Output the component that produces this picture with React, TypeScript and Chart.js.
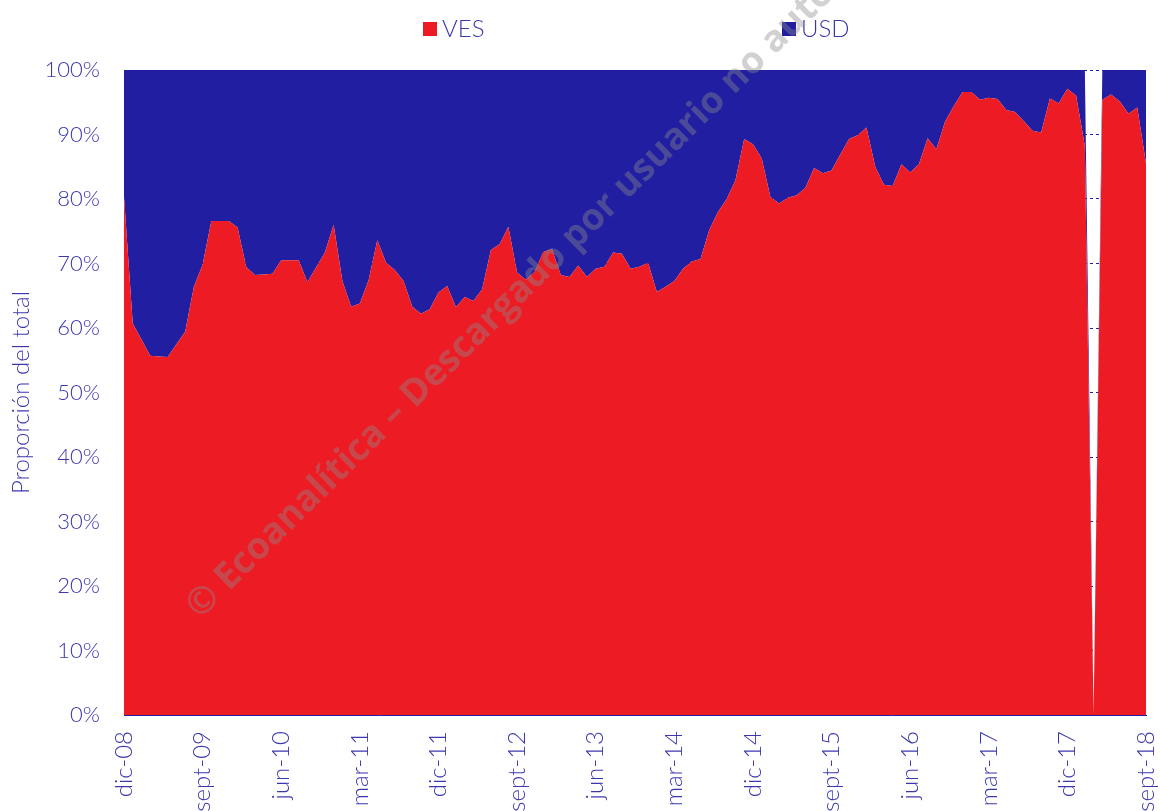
import React, { useEffect, useRef } from 'react';
import { Chart, registerables } from 'chart.js';

Chart.register(...registerables);

const MONTHS = ['ene', 'feb', 'mar', 'abr', 'may', 'jun', 'jul', 'ago', 'sept', 'oct', 'nov', 'dic'];
const START_YEAR = 2008;
const START_MONTH = 11; // dic
const N_POINTS = 118;

const LABELS: string[] = [];
for (let i = 0; i < N_POINTS; i++) {
  const m = (START_MONTH + i) % 12;
  const y = START_YEAR + Math.floor((START_MONTH + i) / 12);
  LABELS.push(`${MONTHS[m]}-${String(y % 100).padStart(2, '0')}`);
}

const VES = [
  80.4, 60.7, 58.2, 55.7, 55.6, 55.5, 57.5, 59.4, 66.4, 69.8, 76.6, 76.6,
  76.6, 75.6, 69.4, 68.2, 68.3, 68.4, 70.5, 70.5, 70.5, 67.1, 69.4, 71.7,
  76.0, 67.3, 63.3, 63.8, 67.4, 73.6, 70.1, 69.0, 67.3, 63.3, 62.2, 62.9,
  65.5, 66.5, 63.2, 64.8, 64.2, 66.0, 72.1, 73.0, 75.7, 68.6, 67.5, 68.7,
  71.8, 72.2, 68.2, 67.9, 69.7, 67.9, 69.2, 69.5, 71.7, 71.5, 69.2, 69.5,
  70.1, 65.6, 66.4, 67.3, 69.2, 70.3, 70.7, 75.2, 78.0, 80.0, 82.9, 89.3,
  88.5, 86.3, 80.3, 79.3, 80.2, 80.6, 81.7, 84.8, 84.0, 84.4, 86.9, 89.3,
  89.9, 91.1, 85.0, 82.2, 82.0, 85.4, 84.1, 85.4, 89.4, 87.7, 92.0, 94.4,
  96.6, 96.6, 95.4, 95.7, 95.5, 93.8, 93.5, 92.1, 90.6, 90.3, 95.6, 94.8,
  97.1, 96.0, 88.2, 0, 95.4, 96.2, 95.1, 93.2, 94.2, 85.5,
];

const USD = [
  19.6, 39.3, 41.8, 44.3, 44.4, 44.5, 42.5, 40.6, 33.6, 30.2, 23.4, 23.4,
  23.4, 24.4, 30.6, 31.8, 31.7, 31.6, 29.5, 29.5, 29.5, 32.9, 30.6, 28.3,
  24.0, 32.7, 36.7, 36.2, 32.6, 26.4, 29.9, 31.0, 32.7, 36.7, 37.8, 37.1,
  34.5, 33.5, 36.8, 35.2, 35.8, 34.0, 27.9, 27.0, 24.3, 31.4, 32.5, 31.3,
  28.2, 27.8, 31.8, 32.1, 30.3, 32.1, 30.8, 30.5, 28.3, 28.5, 30.8, 30.5,
  29.9, 34.4, 33.6, 32.7, 30.8, 29.7, 29.3, 24.8, 22.0, 20.0, 17.1, 10.7,
  11.5, 13.7, 19.7, 20.7, 19.8, 19.4, 18.3, 15.2, 16.0, 15.6, 13.1, 10.7,
  10.1, 8.9, 15.0, 17.8, 18.0, 14.6, 15.9, 14.6, 10.6, 12.3, 8.0, 5.6,
  3.4, 3.4, 4.6, 4.3, 4.5, 6.2, 6.5, 7.9, 9.4, 9.7, 4.4, 5.2,
  2.9, 4.0, 11.8, 0, 4.6, 3.8, 4.9, 6.8, 5.8, 14.5,
];

const SERIES_NAMES = ['VES', 'USD'];
const RED = '#ED1C24';
const BLUE = '#211EA2';
const TEXT = '#3B38AE';
const FONT = "Lato, 'Noto Sans', sans-serif";
const WATERMARK = '© Ecoanalítica – Descargado por usuario no autorizado';

const overlayPlugin = {
  id: 'overlay',
  afterDraw(chart: any) {
    const ctx = chart.ctx as CanvasRenderingContext2D;
    ctx.save();
    // legend
    const items = [
      { name: SERIES_NAMES[0], color: RED, x: 423 },
      { name: SERIES_NAMES[1], color: BLUE, x: 782 },
    ];
    ctx.font = `300 24px ${FONT}`;
    ctx.textBaseline = 'middle';
    ctx.textAlign = 'left';
    items.forEach((it) => {
      ctx.fillStyle = it.color;
      ctx.fillRect(it.x, 22, 14, 14);
      ctx.fillStyle = TEXT;
      ctx.fillText(it.name, it.x + 19, 29);
    });
    // watermark
    ctx.translate(200, 620);
    ctx.rotate((-44.5 * Math.PI) / 180);
    ctx.font = `bold 37px 'Open Sans', sans-serif`;
    ctx.fillStyle = 'rgba(140,140,140,0.4)';
    ctx.textBaseline = 'alphabetic';
    ctx.fillText(WATERMARK, 0, 0);
    ctx.restore();
  },
};

export default function App() {
  const ref = useRef<HTMLCanvasElement | null>(null);

  useEffect(() => {
    if (!ref.current) return;
    const chart = new Chart(ref.current, {
      type: 'line',
      data: {
        labels: LABELS,
        datasets: [
          {
            label: SERIES_NAMES[0],
            data: VES,
            backgroundColor: RED,
            borderColor: RED,
            borderWidth: 0,
            pointRadius: 0,
            fill: 'origin',
            tension: 0,
          },
          {
            label: SERIES_NAMES[1],
            data: USD,
            backgroundColor: BLUE,
            borderColor: BLUE,
            borderWidth: 0,
            pointRadius: 0,
            fill: '-1',
            tension: 0,
          },
        ],
      },
      plugins: [overlayPlugin],
      options: {
        animation: false,
        responsive: true,
        maintainAspectRatio: false,
        layout: { padding: { top: 70, right: 14, left: 0, bottom: 0 } },
        plugins: {
          legend: { display: false },
          tooltip: { enabled: false },
          title: { display: false },
        },
        scales: {
          x: {
            stacked: true,
            offset: false,
            grid: { display: false, drawTicks: false },
            border: { display: true, color: BLUE, width: 1 },
            ticks: {
              autoSkip: false,
              maxRotation: 90,
              minRotation: 90,
              padding: 16,
              color: TEXT,
              font: { family: FONT, size: 24, weight: '300' as any },
              callback: (_v: any, i: number) => (i % 9 === 0 ? LABELS[i] : null),
            },
            afterFit: (scale: any) => {
              scale.height = 96;
              scale.paddingLeft = 0;
              scale.paddingRight = 0;
            },
          },
          y: {
            stacked: true,
            min: 0,
            max: 100,
            grid: { color: BLUE, lineWidth: 1, drawTicks: false },
            border: { display: false, dash: [3, 3] },
            ticks: {
              stepSize: 10,
              padding: 24,
              color: TEXT,
              font: { family: FONT, size: 22, weight: '300' as any },
              callback: (v: any) => `${v}%`,
            },
            title: {
              display: true,
              text: 'Proporción del total',
              color: TEXT,
              font: { family: FONT, size: 24, weight: '300' as any },
              padding: { top: 7, bottom: 0 },
            },
            afterFit: (scale: any) => {
              scale.width = 124;
              scale.paddingTop = 0;
              scale.paddingBottom = 0;
            },
          },
        },
      },
    });
    return () => chart.destroy();
  }, []);

  return (
    <div style={{ position: 'absolute', left: 0, top: 0, width: 1160, height: 811, overflow: 'hidden', background: '#fff' }}>
      <canvas ref={ref} />
    </div>
  );
}
